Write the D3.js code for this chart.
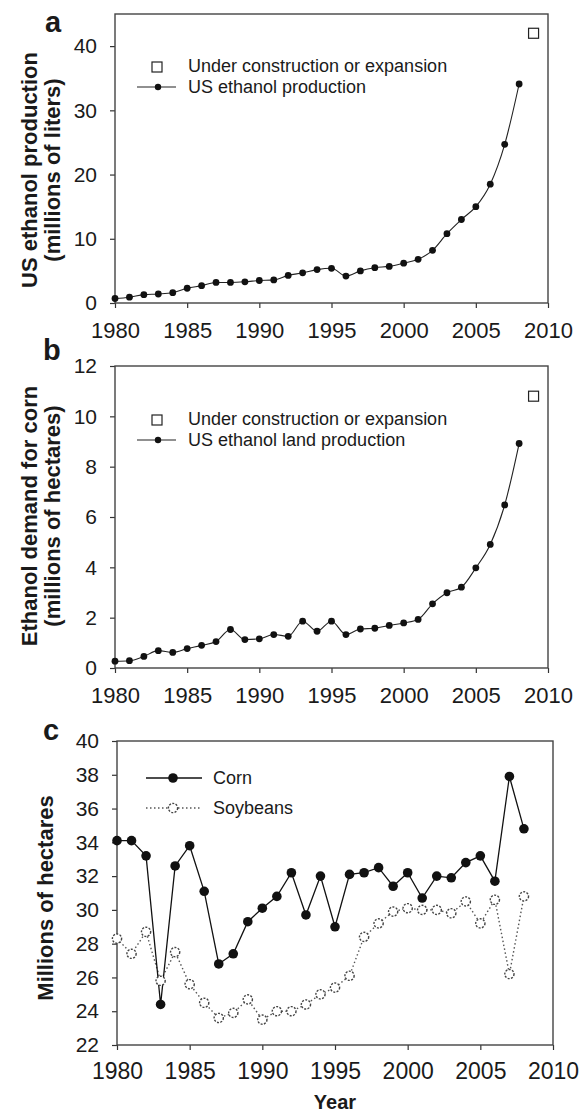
<!DOCTYPE html>
<html>
<head>
<meta charset="utf-8">
<script src="https://cdn.jsdelivr.net/npm/d3@7"></script>
<style>
  html, body { margin: 0; padding: 0; background: #fff; }
  svg { display: block; }
  text { font-family: "Liberation Sans", Arial, sans-serif; fill: #1a1a1a; }
</style>
</head>
<body>
<svg id="chart" width="581" height="1115"></svg>
<script>
// ---------- DATA ----------
const years = [1980,1981,1982,1983,1984,1985,1986,1987,1988,1989,1990,1991,1992,1993,1994,
               1995,1996,1997,1998,1999,2000,2001,2002,2003,2004,2005,2006,2007,2008];
const ethanolProduction = [0.7,0.9,1.3,1.4,1.6,2.3,2.7,3.2,3.2,3.3,3.5,3.6,4.3,4.7,5.2,
                           5.4,4.2,5.0,5.5,5.7,6.2,6.8,8.2,10.8,13.0,15.0,18.5,24.7,34.1];
const productionUnderConstruction = [{year: 2009, value: 42.0}];
const ethanolLand = [0.27,0.29,0.46,0.69,0.62,0.77,0.90,1.05,1.53,1.13,1.16,1.33,1.26,1.86,1.46,
                     1.86,1.33,1.55,1.58,1.69,1.79,1.93,2.55,2.99,3.21,3.98,4.91,6.48,8.92];
const landUnderConstruction = [{year: 2009, value: 10.8}];
const cornArea = [34.1,34.1,33.2,24.4,32.6,33.8,31.1,26.8,27.4,29.3,30.1,30.8,32.2,29.7,32.0,
                  29.0,32.1,32.2,32.5,31.4,32.2,30.7,32.0,31.9,32.8,33.2,31.7,37.9,34.8];
const soyArea = [28.3,27.4,28.7,25.8,27.5,25.6,24.5,23.6,23.9,24.7,23.5,24.0,24.0,24.4,25.0,
                 25.4,26.1,28.4,29.2,29.9,30.1,30.0,30.0,29.8,30.5,29.2,30.6,26.2,30.8];
const xTicks = [1980,1985,1990,1995,2000,2005,2010];
const yTicksA = [0,10,20,30,40];
const yTicksB = [0,2,4,6,8,10,12];
const yTicksC = [22,24,26,28,30,32,34,36,38,40];

const svg = d3.select("#chart");

function axes(g, x, y, yTicks, xFont, yFont, xPad) {
  const [x0, x1] = x.range();
  const [yb, yt] = y.range();
  const ya = g.append("g").attr("transform", `translate(${x0},0)`)
    .call(d3.axisLeft(y).tickValues(yTicks).tickSize(5).tickPadding(13).tickFormat(d3.format("d")));
  ya.select(".domain").remove();
  ya.selectAll("line").attr("stroke", "#333").attr("stroke-width", 1.2);
  ya.selectAll("text").style("font-size", yFont + "px").attr("fill", "#1a1a1a");
  const xa = g.append("g").attr("transform", `translate(0,${yb})`)
    .call(d3.axisBottom(x).tickValues(xTicks).tickSize(5).tickPadding(xPad).tickFormat(d3.format("d")));
  xa.select(".domain").remove();
  xa.selectAll("line").attr("stroke", "#333").attr("stroke-width", 1.2);
  xa.selectAll("text").style("font-size", xFont + "px").attr("fill", "#1a1a1a");
  g.append("rect").attr("x", x0).attr("y", yt).attr("width", x1 - x0).attr("height", yb - yt)
    .attr("fill", "none").attr("stroke", "#444").attr("stroke-width", 1.4);
}

function ylabel(lines, xs, cy, size) {
  lines.forEach((t, i) => {
    svg.append("text")
      .attr("transform", `translate(${xs[i]},${cy}) rotate(-90)`)
      .attr("text-anchor", "middle")
      .style("font-size", size + "px").style("font-weight", "bold")
      .text(t);
  });
}

function panelLetter(t, x, y) {
  svg.append("text").attr("x", x).attr("y", y)
    .style("font-size", "29px").style("font-weight", "bold").text(t);
}

function ethanolPanel(opts) {
  const g = svg.append("g");
  const x = d3.scaleLinear().domain([1980, 2010]).range([115, 548]);
  const y = d3.scaleLinear().domain(opts.domain).range(opts.yRange);
  axes(g, x, y, opts.ticks, 22, 21, 14);
  const pts = years.map((yr, i) => ({year: yr, value: opts.values[i]}));
  g.append("path").datum(pts)
    .attr("fill", "none").attr("stroke", "#222").attr("stroke-width", 1.1)
    .attr("d", d3.line().x(d => x(d.year)).y(d => y(d.value)).curve(d3.curveMonotoneX));
  g.selectAll(".dot").data(pts).enter().append("circle")
    .attr("cx", d => x(d.year)).attr("cy", d => y(d.value)).attr("r", 3.4).attr("fill", "#111");
  g.selectAll(".sq").data(opts.construction).enter().append("rect")
    .attr("x", d => x(d.year) - 5).attr("y", d => y(d.value) - 5)
    .attr("width", 10).attr("height", 10)
    .attr("fill", "#fff").attr("stroke", "#222").attr("stroke-width", 1.2);
  const ly = opts.legendY;
  g.append("rect").attr("x", 152).attr("y", ly - 10).attr("width", 10).attr("height", 10)
    .attr("fill", "#fff").attr("stroke", "#222").attr("stroke-width", 1.2);
  g.append("text").attr("x", 188).attr("y", ly).style("font-size", "18px").text("Under construction or expansion");
  g.append("line").attr("x1", 137).attr("x2", 176).attr("y1", ly + 15).attr("y2", ly + 15)
    .attr("stroke", "#222").attr("stroke-width", 1.1);
  g.append("circle").attr("cx", 158).attr("cy", ly + 15).attr("r", 3.2).attr("fill", "#111");
  g.append("text").attr("x", 188).attr("y", ly + 21).style("font-size", "18px").text(opts.legendText);
}

ethanolPanel({domain: [0, 45], yRange: [303, 14], ticks: yTicksA, values: ethanolProduction,
              construction: productionUnderConstruction, legendY: 72, legendText: "US ethanol production"});
ylabel(["US ethanol production", "(millions of liters)"], [37, 60], 170, 22);
panelLetter("a", 45, 32);

ethanolPanel({domain: [0, 12], yRange: [668, 366], ticks: yTicksB, values: ethanolLand,
              construction: landUnderConstruction, legendY: 425, legendText: "US ethanol land production"});
ylabel(["Ethanol demand for corn", "(millions of hectares)"], [37, 60], 516, 22);
panelLetter("b", 43, 360);

(function () {
  const g = svg.append("g");
  const x = d3.scaleLinear().domain([1980, 2010]).range([117, 553]);
  const y = d3.scaleLinear().domain([22, 40]).range([1045, 741]);
  axes(g, x, y, yTicksC, 23, 21, 13);
  const corn = years.map((yr, i) => ({year: yr, value: cornArea[i]}));
  const soy = years.map((yr, i) => ({year: yr, value: soyArea[i]}));
  const line = d3.line().x(d => x(d.year)).y(d => y(d.value));
  g.append("path").datum(soy).attr("fill", "none").attr("stroke", "#555")
    .attr("stroke-width", 1.4).attr("stroke-dasharray", "1.5,2.5").attr("d", line);
  g.append("path").datum(corn).attr("fill", "none").attr("stroke", "#111")
    .attr("stroke-width", 1.3).attr("d", line);
  g.selectAll(".soy").data(soy).enter().append("circle")
    .attr("cx", d => x(d.year)).attr("cy", d => y(d.value)).attr("r", 4.6)
    .attr("fill", "#fff").attr("stroke", "#444").attr("stroke-width", 1.4).attr("stroke-dasharray", "2,1.4");
  g.selectAll(".corn").data(corn).enter().append("circle")
    .attr("cx", d => x(d.year)).attr("cy", d => y(d.value)).attr("r", 4.8).attr("fill", "#111");
  g.append("line").attr("x1", 146).attr("x2", 202).attr("y1", 778).attr("y2", 778)
    .attr("stroke", "#111").attr("stroke-width", 1.3);
  g.append("circle").attr("cx", 173).attr("cy", 778).attr("r", 4.8).attr("fill", "#111");
  g.append("text").attr("x", 213).attr("y", 784).style("font-size", "18px").text("Corn");
  g.append("line").attr("x1", 146).attr("x2", 202).attr("y1", 808).attr("y2", 808)
    .attr("stroke", "#555").attr("stroke-width", 1.4).attr("stroke-dasharray", "1.5,2.5");
  g.append("circle").attr("cx", 173).attr("cy", 808).attr("r", 4.6)
    .attr("fill", "#fff").attr("stroke", "#444").attr("stroke-width", 1.4).attr("stroke-dasharray", "2,1.4");
  g.append("text").attr("x", 213).attr("y", 814).style("font-size", "18px").text("Soybeans");
  svg.append("text").attr("x", 335).attr("y", 1109).attr("text-anchor", "middle")
    .style("font-size", "20px").style("font-weight", "bold").text("Year");
})();
ylabel(["Millions of hectares"], [53], 898, 22);
panelLetter("c", 43, 740);
</script>
</body>
</html>
